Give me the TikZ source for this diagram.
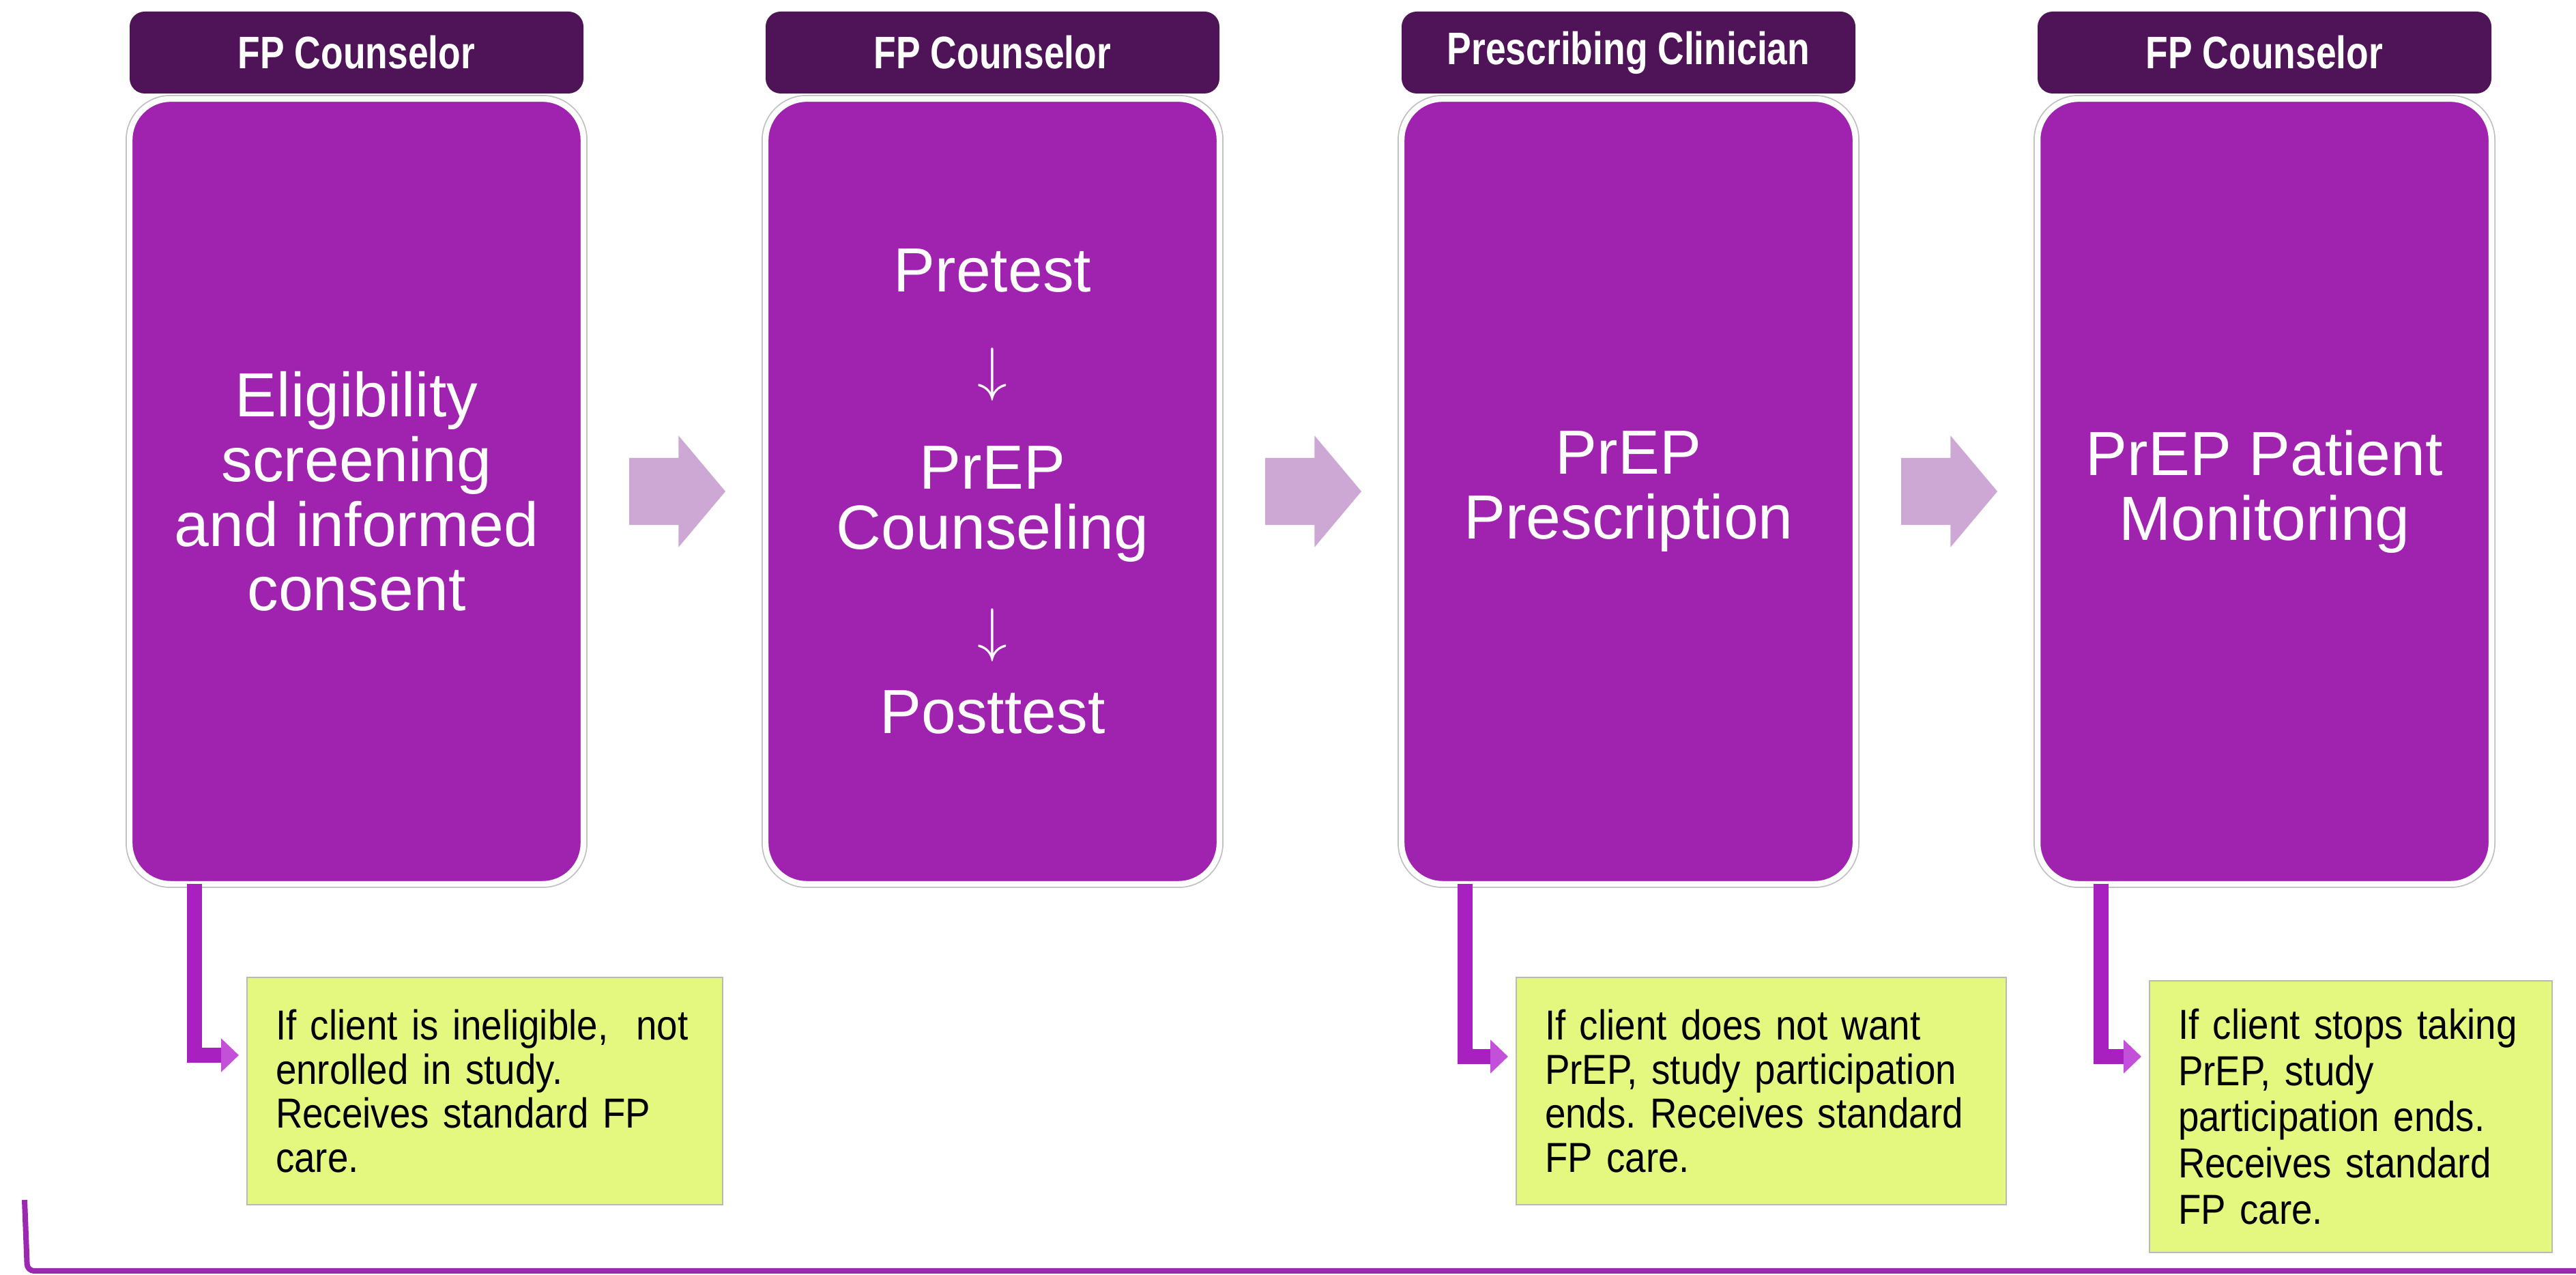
\documentclass[tikz,border=0pt]{standalone}
\usepackage{fontspec}
\setmainfont{Liberation Sans}
\newfontfamily\headfont[FakeStretch=0.8]{Liberation Sans}
\newfontfamily\notefont[FakeStretch=0.89]{Liberation Sans}
\usetikzlibrary{shapes.arrows,arrows.meta}
\frenchspacing

\definecolor{headpurple}{RGB}{79,20,87}
\definecolor{boxpurple}{RGB}{160,35,176}
\definecolor{flowlilac}{RGB}{205,168,213}
\definecolor{notefill}{RGB}{228,247,127}
\definecolor{notegray}{RGB}{185,185,185}
\definecolor{bentpurple}{RGB}{168,32,192}
\definecolor{bentlight}{RGB}{196,80,218}
\definecolor{linepurple}{RGB}{156,39,176}

\newcommand{\stepdown}{{\fontsize{30}{27}\selectfont$\downarrow$}}

\begin{document}
\begin{tikzpicture}[rolebox/.style={rectangle, rounded corners=0.22cm, fill=headpurple, text=white, minimum width=6.65cm, minimum height=1.2cm, inner sep=0pt, outer sep=0pt, font=\headfont\bfseries\fontsize{19}{21}\selectfont},
		stepbox/.style={rectangle, rounded corners=0.6cm, fill=boxpurple, draw=white, line width=2.4pt, preaction={draw=black!25, line width=3.4pt}, minimum width=6.65cm, minimum height=11.5cm, inner sep=0pt, outer sep=0pt, text=white, align=center, font=\fontsize{26}{27}\selectfont},
		flowarrow/.style={single arrow, fill=flowlilac, minimum height=1.41cm, single arrow head extend=0.325cm, single arrow tip angle=100, inner xsep=0pt, inner ysep=0.485cm, outer sep=0pt, anchor=west},
		note/.style={rectangle, fill=notefill, draw=notegray, line width=0.6pt, align=left, inner xsep=0.42cm, inner ysep=0pt, outer sep=0pt, anchor=north west, font=\notefont\fontsize{17.5}{18.4}\selectfont},
		exitarrow/.style={draw=bentpurple, line width=0.22cm, line join=miter, -{Triangle[length=0.26cm, width=0.48cm, color=bentlight]}, shorten >=0.12cm},
		footline/.style={draw=linepurple, line width=0.08cm, rounded corners=0.1cm}]
			\useasboundingbox (0,0) rectangle (37.75,18.68);
			\node[rolebox] (r1) at (5.225,17.91){FP Counselor};
			\node[rolebox] (r2) at (14.545,17.91){FP Counselor};
			\node[rolebox] (r3) at (23.865,17.91){Prescribing Clinician};
			\node[rolebox] (r4) at (33.185,17.91){FP Counselor};
			
			\node[stepbox] (b1) at (5.225,11.48){Eligibility\\screening\\and informed\\consent};
			\node[stepbox] (b2) at (14.545,11.48){Pretest\\[13.5pt]\stepdown\\[14.5pt]PrEP\\[-1.8pt]Counseling\\[15pt]\stepdown\\[7.7pt]Posttest};
			\node[stepbox] (b3) at (23.865,11.48){PrEP\\Prescription};
			\node[stepbox] (b4) at (33.185,11.48){PrEP Patient\\Monitoring};
			
			\node[flowarrow] (f1) at (9.22,11.48){};
			\node[flowarrow] (f2) at (18.54,11.48){};
			\node[flowarrow] (f3) at (27.86,11.48){};
			
			\node[note, text width=6.13cm, minimum height=3.33cm] (n1) at (3.62,4.36){If client is ineligible,\ \ not\\enrolled in study.\\Receives standard FP\\care.};
			\node[note, text width=6.34cm, minimum height=3.33cm] (n3) at (22.22,4.36){If client does not want\\PrEP, study participation\\ends. Receives standard\\FP care.};
			\node[note, text width=5.06cm, minimum height=3.98cm, font=\notefont\fontsize{17.5}{19.3}\selectfont] (n4) at (31.5,4.31){If client stops taking\\PrEP, study\\participation ends.\\Receives standard\\FP care.};
			
			\draw[exitarrow] ([xshift=0.95cm]b1.south west) |- ([yshift=-1.14cm]n1.north west);
			\draw[exitarrow] ([xshift=0.93cm]b3.south west) |- ([yshift=-1.16cm]n3.north west);
			\draw[exitarrow] ([xshift=0.93cm]b4.south west) |- ([yshift=-1.11cm]n4.north west);
			
			\draw[footline] (0.36,1.1) -- (0.4,0.06) -- (37.75,0.06);
\end{tikzpicture}
\end{document}
